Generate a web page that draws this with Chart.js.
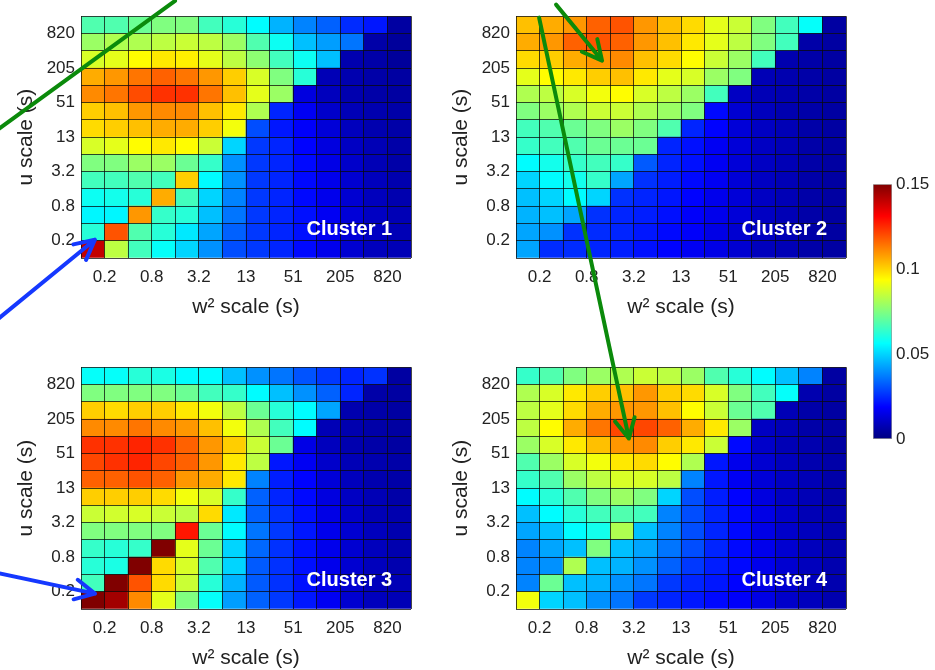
<!DOCTYPE html>
<html lang="en">
  <head>
    <meta charset="UTF-8" />
    <title>Cluster scale maps</title>
    <script src="https://cdn.jsdelivr.net/npm/chart.js"></script>
    <style>
      body {
        margin: 0;
        background: #fff;
      }
      #wrap {
        position: relative;
        width: 935px;
        height: 670px;
        overflow: hidden;
      }
      #wrap canvas {
        position: absolute;
      }
      #c1 { left: 0; top: 0; }
      #c2 { left: 435px; top: 0; }
      #c3 { left: 0; top: 351px; }
      #c4 { left: 435px; top: 351px; }
      #cbar { left: 855px; top: 170px; }
      #overlay { left: 0; top: 0; pointer-events: none; }
    </style>
  </head>
  <body>
    <div id="wrap">
      <canvas id="c1" width="430" height="320"></canvas>
      <canvas id="c2" width="430" height="320"></canvas>
      <canvas id="c3" width="430" height="320"></canvas>
      <canvas id="c4" width="430" height="320"></canvas>
      <canvas id="cbar" width="80" height="290"></canvas>
      <canvas id="overlay" width="935" height="670"></canvas>
    </div>

    <script>
      // tick labels shared by both axes (every second cell edge)
      const scaleLabels = ["0.2", "0.8", "3.2", "13", "51", "205", "820"];
      const clusterNames = ["Cluster 1", "Cluster 2", "Cluster 3", "Cluster 4"];
      const cbTicks = [0, 0.05, 0.1, 0.15];

      // rows listed from top (largest u scale) to bottom, columns w2 scale left to right
      const cluster1 = [
        [0.068, 0.068, 0.072, 0.075, 0.075, 0.066, 0.062, 0.056, 0.045, 0.038, 0.033, 0.025, 0.022, 0.005],
        [0.079, 0.082, 0.082, 0.084, 0.086, 0.084, 0.079, 0.068, 0.058, 0.047, 0.042, 0.036, 0.006, 0.004],
        [0.088, 0.090, 0.094, 0.097, 0.096, 0.090, 0.084, 0.077, 0.066, 0.058, 0.047, 0.007, 0.006, 0.004],
        [0.106, 0.109, 0.114, 0.117, 0.114, 0.109, 0.101, 0.088, 0.075, 0.062, 0.008, 0.007, 0.006, 0.005],
        [0.111, 0.114, 0.120, 0.124, 0.124, 0.114, 0.103, 0.090, 0.079, 0.014, 0.009, 0.007, 0.006, 0.005],
        [0.101, 0.103, 0.109, 0.111, 0.111, 0.103, 0.097, 0.082, 0.024, 0.017, 0.011, 0.008, 0.007, 0.006],
        [0.099, 0.101, 0.103, 0.106, 0.106, 0.101, 0.092, 0.030, 0.022, 0.018, 0.013, 0.009, 0.007, 0.006],
        [0.088, 0.090, 0.094, 0.097, 0.094, 0.086, 0.050, 0.027, 0.024, 0.019, 0.014, 0.010, 0.008, 0.006],
        [0.075, 0.075, 0.079, 0.079, 0.072, 0.064, 0.040, 0.027, 0.024, 0.020, 0.015, 0.011, 0.008, 0.006],
        [0.066, 0.066, 0.068, 0.066, 0.101, 0.056, 0.040, 0.027, 0.024, 0.020, 0.016, 0.012, 0.009, 0.007],
        [0.058, 0.059, 0.062, 0.106, 0.066, 0.050, 0.038, 0.027, 0.024, 0.020, 0.016, 0.012, 0.009, 0.007],
        [0.055, 0.055, 0.109, 0.064, 0.062, 0.047, 0.036, 0.027, 0.024, 0.021, 0.017, 0.013, 0.010, 0.008],
        [0.062, 0.119, 0.068, 0.062, 0.053, 0.043, 0.033, 0.027, 0.024, 0.021, 0.017, 0.013, 0.010, 0.008],
        [0.140, 0.084, 0.066, 0.057, 0.050, 0.040, 0.030, 0.027, 0.024, 0.020, 0.016, 0.012, 0.009, 0.008],
      ];
      const cluster2 = [
        [0.103, 0.106, 0.109, 0.117, 0.119, 0.109, 0.103, 0.099, 0.090, 0.086, 0.075, 0.066, 0.057, 0.005],
        [0.106, 0.109, 0.117, 0.119, 0.117, 0.109, 0.103, 0.097, 0.090, 0.084, 0.075, 0.066, 0.006, 0.005],
        [0.099, 0.101, 0.106, 0.109, 0.111, 0.103, 0.099, 0.094, 0.086, 0.079, 0.066, 0.007, 0.006, 0.005],
        [0.090, 0.094, 0.097, 0.101, 0.103, 0.097, 0.090, 0.088, 0.079, 0.075, 0.008, 0.007, 0.006, 0.005],
        [0.082, 0.084, 0.088, 0.092, 0.094, 0.088, 0.084, 0.079, 0.066, 0.010, 0.008, 0.007, 0.006, 0.005],
        [0.075, 0.079, 0.082, 0.086, 0.086, 0.082, 0.079, 0.075, 0.020, 0.012, 0.009, 0.007, 0.006, 0.005],
        [0.066, 0.068, 0.072, 0.075, 0.079, 0.075, 0.068, 0.024, 0.019, 0.013, 0.010, 0.008, 0.006, 0.005],
        [0.064, 0.066, 0.068, 0.072, 0.072, 0.072, 0.024, 0.021, 0.017, 0.013, 0.010, 0.008, 0.006, 0.005],
        [0.056, 0.059, 0.064, 0.066, 0.064, 0.032, 0.024, 0.021, 0.017, 0.013, 0.010, 0.008, 0.006, 0.005],
        [0.050, 0.056, 0.059, 0.064, 0.043, 0.026, 0.023, 0.020, 0.017, 0.013, 0.010, 0.008, 0.006, 0.005],
        [0.047, 0.050, 0.056, 0.050, 0.026, 0.024, 0.022, 0.019, 0.016, 0.013, 0.010, 0.008, 0.006, 0.005],
        [0.045, 0.047, 0.043, 0.026, 0.024, 0.023, 0.021, 0.018, 0.016, 0.013, 0.010, 0.008, 0.006, 0.005],
        [0.043, 0.040, 0.026, 0.025, 0.024, 0.022, 0.020, 0.018, 0.015, 0.012, 0.010, 0.008, 0.006, 0.005],
        [0.043, 0.025, 0.025, 0.024, 0.023, 0.021, 0.019, 0.017, 0.015, 0.012, 0.009, 0.008, 0.006, 0.005],
      ];
      const cluster3 = [
        [0.057, 0.057, 0.062, 0.060, 0.056, 0.056, 0.047, 0.040, 0.036, 0.031, 0.027, 0.024, 0.026, 0.005],
        [0.075, 0.075, 0.075, 0.075, 0.072, 0.066, 0.064, 0.056, 0.047, 0.040, 0.033, 0.024, 0.006, 0.005],
        [0.101, 0.099, 0.101, 0.101, 0.097, 0.092, 0.084, 0.072, 0.062, 0.056, 0.043, 0.007, 0.006, 0.005],
        [0.111, 0.111, 0.114, 0.111, 0.109, 0.103, 0.092, 0.082, 0.066, 0.056, 0.008, 0.007, 0.006, 0.005],
        [0.124, 0.124, 0.126, 0.124, 0.117, 0.109, 0.101, 0.086, 0.072, 0.015, 0.009, 0.007, 0.006, 0.005],
        [0.121, 0.124, 0.126, 0.121, 0.117, 0.109, 0.097, 0.084, 0.022, 0.017, 0.011, 0.008, 0.007, 0.006],
        [0.117, 0.117, 0.119, 0.117, 0.109, 0.106, 0.097, 0.038, 0.023, 0.019, 0.013, 0.009, 0.007, 0.006],
        [0.101, 0.101, 0.101, 0.099, 0.092, 0.088, 0.064, 0.033, 0.024, 0.020, 0.014, 0.010, 0.008, 0.006],
        [0.086, 0.087, 0.088, 0.086, 0.084, 0.099, 0.053, 0.033, 0.026, 0.021, 0.015, 0.011, 0.008, 0.007],
        [0.075, 0.075, 0.075, 0.075, 0.128, 0.072, 0.056, 0.036, 0.027, 0.022, 0.016, 0.012, 0.009, 0.007],
        [0.064, 0.062, 0.064, 0.150, 0.090, 0.072, 0.050, 0.034, 0.026, 0.021, 0.016, 0.012, 0.009, 0.007],
        [0.062, 0.060, 0.150, 0.099, 0.088, 0.068, 0.050, 0.032, 0.026, 0.021, 0.016, 0.012, 0.009, 0.007],
        [0.066, 0.150, 0.119, 0.099, 0.086, 0.062, 0.045, 0.032, 0.026, 0.021, 0.016, 0.012, 0.009, 0.008],
        [0.150, 0.145, 0.111, 0.090, 0.075, 0.057, 0.042, 0.033, 0.027, 0.022, 0.017, 0.012, 0.009, 0.008],
      ];
      const cluster4 = [
        [0.064, 0.068, 0.075, 0.079, 0.082, 0.086, 0.084, 0.079, 0.068, 0.062, 0.056, 0.047, 0.038, 0.005],
        [0.082, 0.088, 0.097, 0.101, 0.103, 0.109, 0.101, 0.099, 0.088, 0.075, 0.066, 0.057, 0.007, 0.005],
        [0.084, 0.090, 0.099, 0.106, 0.109, 0.109, 0.103, 0.094, 0.086, 0.072, 0.068, 0.008, 0.006, 0.005],
        [0.084, 0.094, 0.106, 0.114, 0.121, 0.121, 0.117, 0.106, 0.097, 0.079, 0.010, 0.008, 0.006, 0.005],
        [0.079, 0.088, 0.097, 0.103, 0.109, 0.111, 0.101, 0.097, 0.086, 0.020, 0.011, 0.008, 0.007, 0.005],
        [0.068, 0.079, 0.088, 0.092, 0.097, 0.099, 0.094, 0.082, 0.022, 0.016, 0.012, 0.009, 0.007, 0.006],
        [0.064, 0.068, 0.079, 0.084, 0.088, 0.088, 0.084, 0.038, 0.022, 0.017, 0.013, 0.010, 0.008, 0.006],
        [0.056, 0.062, 0.068, 0.075, 0.079, 0.075, 0.050, 0.030, 0.023, 0.019, 0.014, 0.010, 0.008, 0.006],
        [0.047, 0.056, 0.062, 0.066, 0.068, 0.066, 0.038, 0.030, 0.024, 0.020, 0.015, 0.011, 0.008, 0.007],
        [0.043, 0.047, 0.056, 0.059, 0.082, 0.047, 0.038, 0.030, 0.024, 0.020, 0.015, 0.011, 0.009, 0.007],
        [0.038, 0.043, 0.047, 0.075, 0.047, 0.043, 0.036, 0.030, 0.024, 0.020, 0.016, 0.012, 0.009, 0.007],
        [0.038, 0.040, 0.082, 0.047, 0.045, 0.040, 0.033, 0.027, 0.023, 0.020, 0.016, 0.012, 0.009, 0.007],
        [0.038, 0.072, 0.047, 0.045, 0.040, 0.036, 0.027, 0.024, 0.022, 0.019, 0.015, 0.012, 0.009, 0.007],
        [0.092, 0.050, 0.047, 0.040, 0.036, 0.027, 0.024, 0.022, 0.020, 0.018, 0.015, 0.011, 0.009, 0.007],
      ];

      const vmax = cbTicks[cbTicks.length - 1];
      const family = "'Liberation Sans', Arial, Helvetica, sans-serif";
      const textColor = "#222";

      // matlab style jet colormap, t in [0,1]
      function jet(t) {
        t = Math.max(0, Math.min(1, t));
        const c = (x) => Math.round(255 * Math.max(0, Math.min(1, x)));
        const r = c(1.5 - Math.abs(4 * t - 3));
        const g = c(1.5 - Math.abs(4 * t - 2));
        const b = c(1.5 - Math.abs(4 * t - 1));
        return `rgb(${r},${g},${b})`;
      }

      const clusterLabel = {
        id: "clusterLabel",
        afterDraw(chart, args, opts) {
          const { ctx } = chart;
          const { x, y } = chart.scales;
          ctx.save();
          ctx.font = "bold 20px " + family;
          ctx.fillStyle = "#fff";
          ctx.textAlign = "right";
          ctx.textBaseline = "middle";
          ctx.fillText(opts.text, x.getPixelForValue(13.2), y.getPixelForValue(1.63));
          ctx.restore();
        },
      };

      function makeHeatmap(id, values, name) {
        const n = values.length;
        const cells = [];
        const colors = [];
        values.forEach((row, i) => {
          const r = n - 1 - i;
          row.forEach((v, j) => {
            cells.push({ x: j + 0.5, y: [r, r + 1] });
            colors.push(jet(v / vmax));
          });
        });

        const tickText = (v) => (v % 2 === 1 ? scaleLabels[(v - 1) / 2] : "");
        const gridOpts = {
          color: "rgba(10,10,10,0.75)",
          lineWidth: 1,
          drawTicks: false,
          offset: false,
          z: 1,
        };
        const tickOpts = (pad) => ({
          stepSize: 1,
          autoSkip: false,
          maxRotation: 0,
          padding: pad,
          color: textColor,
          font: { family, size: 17 },
          callback: tickText,
        });

        return new Chart(document.getElementById(id), {
          type: "bar",
          data: {
            datasets: [
              {
                data: cells,
                backgroundColor: colors,
                borderWidth: 0,
                barPercentage: 1,
                categoryPercentage: 1,
              },
            ],
          },
          options: {
            responsive: false,
            animation: false,
            devicePixelRatio: 1,
            events: [],
            layout: { padding: { top: 7, right: 19, left: 0, bottom: 0 } },
            plugins: {
              legend: { display: false },
              tooltip: { enabled: false },
              clusterLabel: { text: name },
            },
            scales: {
              x: {
                type: "linear",
                min: 0,
                max: n,
                offset: false,
                grid: gridOpts,
                border: { display: false },
                ticks: tickOpts(9),
                title: {
                  display: true,
                  text: "w² scale (s)",
                  color: textColor,
                  font: { family, size: 21 },
                  padding: { top: 0, bottom: 0 },
                },
                afterFit: (s) => {
                  s.height = 62;
                },
              },
              y: {
                type: "linear",
                min: 0,
                max: n,
                offset: false,
                grid: gridOpts,
                border: { display: false },
                ticks: tickOpts(6),
                title: {
                  display: true,
                  text: "u scale (s)",
                  color: textColor,
                  font: { family, size: 21 },
                  padding: { top: 14, bottom: 0 },
                },
                afterFit: (s) => {
                  s.width = 81;
                },
              },
            },
          },
          plugins: [clusterLabel],
        });
      }

      const charts = [
        makeHeatmap("c1", cluster1, clusterNames[0]),
        makeHeatmap("c2", cluster2, clusterNames[1]),
        makeHeatmap("c3", cluster3, clusterNames[2]),
        makeHeatmap("c4", cluster4, clusterNames[3]),
      ];

      // colour bar
      function jetGradient(chart) {
        const y = chart.scales.y;
        if (!chart.chartArea || !y) return null;
        const g = chart.ctx.createLinearGradient(
          0,
          y.getPixelForValue(cbTicks[0]),
          0,
          y.getPixelForValue(vmax)
        );
        for (let k = 0; k <= 32; k++) g.addColorStop(k / 32, jet(k / 32));
        return g;
      }

      new Chart(document.getElementById("cbar"), {
        type: "bar",
        data: {
          labels: [""],
          datasets: [
            {
              data: [[cbTicks[0], vmax]],
              backgroundColor: (ctx) => jetGradient(ctx.chart),
              borderColor: "#999",
              borderWidth: 1,
              borderSkipped: false,
              barPercentage: 1,
              categoryPercentage: 1,
            },
          ],
        },
        options: {
          responsive: false,
          animation: false,
          devicePixelRatio: 1,
          events: [],
          layout: { padding: { left: 18, top: 14, bottom: 21, right: 0 } },
          plugins: { legend: { display: false }, tooltip: { enabled: false } },
          scales: {
            x: { display: false },
            y: {
              position: "right",
              min: cbTicks[0],
              max: vmax,
              grid: { display: false, drawTicks: false },
              border: { display: false },
              afterBuildTicks: (s) => {
                s.ticks = cbTicks.map((v) => ({ value: v }));
              },
              ticks: {
                padding: 4,
                color: textColor,
                font: { family, size: 17 },
                callback: (v) => String(v),
              },
              afterFit: (s) => {
                s.width = 43;
              },
            },
          },
        },
      });

      // annotation arrows, ends given in the data units of one panel
      const green = "#0b8a0b";
      const blue = "#1538ff";
      const arrows = [
        { panel: 0, from: [3.99, 14.89], to: [-3.86, 7.11], color: green, head: false },
        { panel: 0, from: [-3.65, -3.68], to: [0.59, 1.06], color: blue, head: true },
        { panel: 1, from: [1.7, 14.67], to: [3.65, 11.43], color: green, head: true },
        { panel: 3, from: [0.98, 34.24], to: [4.79, 9.87], color: green, head: true },
        { panel: 2, from: [-3.65, 2.12], to: [0.59, 0.89], color: blue, head: true },
      ];

      const overlay = document.getElementById("overlay").getContext("2d");
      overlay.lineCap = "round";
      overlay.lineJoin = "round";
      overlay.lineWidth = 4;
      arrows.forEach((a) => {
        const chart = charts[a.panel];
        const ox = chart.canvas.offsetLeft;
        const oy = chart.canvas.offsetTop;
        const px = (p) => [
          ox + chart.scales.x.getPixelForValue(p[0]),
          oy + chart.scales.y.getPixelForValue(p[1]),
        ];
        const [x0, y0] = px(a.from);
        const [x1, y1] = px(a.to);
        overlay.strokeStyle = a.color;
        overlay.beginPath();
        overlay.moveTo(x0, y0);
        overlay.lineTo(x1, y1);
        if (a.head) {
          const back = Math.atan2(y0 - y1, x0 - x1);
          const len = 22;
          const spread = (27 * Math.PI) / 180;
          overlay.moveTo(x1 + len * Math.cos(back + spread), y1 + len * Math.sin(back + spread));
          overlay.lineTo(x1, y1);
          overlay.lineTo(x1 + len * Math.cos(back - spread), y1 + len * Math.sin(back - spread));
        }
        overlay.stroke();
      });
    </script>
  </body>
</html>
